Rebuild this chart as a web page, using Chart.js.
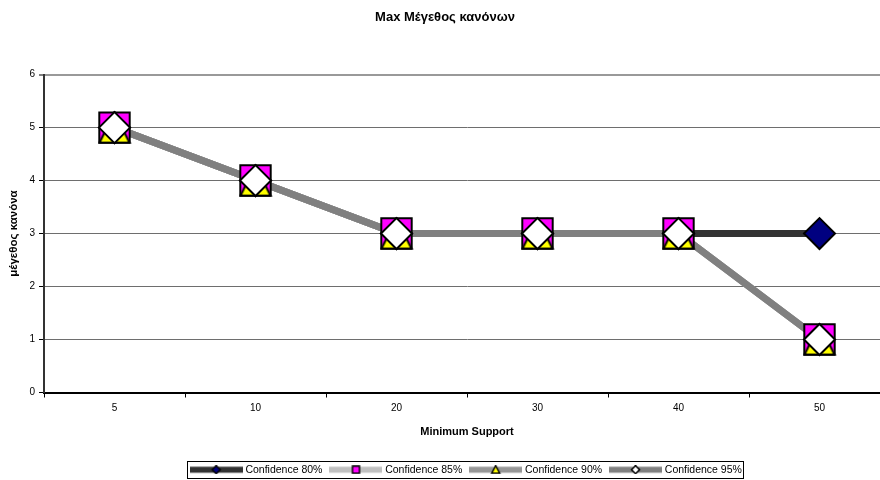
<!DOCTYPE html>
<html>
<head>
<meta charset="utf-8">
<script src="https://cdn.jsdelivr.net/npm/chart.js@4/dist/chart.umd.min.js"></script>
<style>
  html, body { margin: 0; padding: 0; background: #fff; overflow: hidden; }
  #wrap { width: 880px; height: 480px; overflow: hidden; }
  canvas { display: block; }
</style>
</head>
<body>
<div id="wrap"><canvas id="chart" width="890" height="480"></canvas></div>
<script>
// Minimum support values on the x axis
const supportLabels = ['5', '10', '20', '30', '40', '50'];
// Maximum rule size for each confidence threshold
const conf80 = [5, 4, 3, 3, 3, 3];
const conf85 = [5, 4, 3, 3, 3, 1];
const conf90 = [5, 4, 3, 3, 3, 1];
const conf95 = [5, 4, 3, 3, 3, 1];
const seriesNames = ['Confidence 80%', 'Confidence 85%', 'Confidence 90%', 'Confidence 95%'];

const FONT = "'Liberation Sans', Arial, sans-serif";
Chart.defaults.font.family = FONT;
Chart.defaults.color = '#000';

// Yellow triangle marker: apex at top centre, base across the bottom
function triangleMarker(size) {
  const c = document.createElement('canvas');
  c.width = size; c.height = size;
  const g = c.getContext('2d');
  g.beginPath();
  g.moveTo(size / 2, 2);
  g.lineTo(size - 2, size - 2);
  g.lineTo(2, size - 2);
  g.closePath();
  g.fillStyle = '#ffff00';
  g.fill();
  g.lineWidth = 2;
  g.strokeStyle = '#000';
  g.stroke();
  return c;
}

// Legend swatch: thick line segment with a small marker in the middle
function legendSwatch(lineColor, kind) {
  const w = 53, h = 9;
  const c = document.createElement('canvas');
  c.width = w; c.height = h;
  const g = c.getContext('2d');
  g.fillStyle = lineColor;
  g.fillRect(0, 1.5, w, 6);
  const cx = w / 2, cy = h / 2;
  g.lineWidth = 1.5;
  g.strokeStyle = '#000';
  g.beginPath();
  if (kind === 'diamond' || kind === 'diamondWhite') {
    g.moveTo(cx, cy - 4); g.lineTo(cx + 4, cy); g.lineTo(cx, cy + 4); g.lineTo(cx - 4, cy); g.closePath();
    g.fillStyle = kind === 'diamond' ? '#000080' : '#ffffff';
  } else if (kind === 'square') {
    g.rect(cx - 3.5, cy - 3.5, 7, 7);
    g.fillStyle = '#ff00ff';
  } else {
    g.moveTo(cx, cy - 4); g.lineTo(cx + 4, cy + 3.5); g.lineTo(cx - 4, cy + 3.5); g.closePath();
    g.fillStyle = '#ffff00';
  }
  g.fill();
  g.stroke();
  return c;
}

const lineColors = ['#333333', '#c0c0c0', '#969696', '#808080'];
const swatches = [
  legendSwatch(lineColors[0], 'diamond'),
  legendSwatch(lineColors[1], 'square'),
  legendSwatch(lineColors[2], 'triangle'),
  legendSwatch(lineColors[3], 'diamondWhite')
];
const seriesValues = [conf80, conf85, conf90, conf95];

// Lines first (underneath), markers on top of every line
const lineSets = seriesValues.map((vals, i) => ({
  label: seriesNames[i],
  data: vals,
  borderColor: lineColors[i],
  backgroundColor: lineColors[i],
  borderWidth: 7,
  pointRadius: 0,
  pointHoverRadius: 0,
  tension: 0,
  order: 8 - i
}));

const markerStyles = [
  { pointStyle: 'rectRot', pointRadius: 15.5, pointBackgroundColor: '#000080' },
  { pointStyle: 'rect', pointRadius: 21.5, pointBackgroundColor: '#ff00ff' },
  { pointStyle: triangleMarker(34), pointRadius: 17, pointBackgroundColor: '#ffff00' },
  { pointStyle: 'rectRot', pointRadius: 15.5, pointBackgroundColor: '#ffffff' }
];

const markerSets = seriesValues.map((vals, i) => Object.assign({
  label: seriesNames[i] + ' markers',
  data: vals,
  showLine: false,
  pointBorderColor: '#000',
  pointBorderWidth: 2,
  order: 4 - i
}, markerStyles[i]));

// Box drawn around the legend row
const legendFrame = {
  id: 'legendFrame',
  afterDraw(chart) {
    const boxes = chart.legend && chart.legend.legendHitBoxes;
    if (!boxes || !boxes.length) return;
    const first = boxes[0], last = boxes[boxes.length - 1];
    const x0 = Math.round(first.left) - 4.5;
    const x1 = Math.round(last.left + last.width) + 1.5;
    const y0 = Math.round(first.top) - 3.5;
    const y1 = Math.round(first.top + first.height) + 3.5;
    const g = chart.ctx;
    g.save();
    g.strokeStyle = '#000';
    g.lineWidth = 1;
    g.strokeRect(x0, y0, x1 - x0, y1 - y0);
    g.restore();
  }
};

new Chart(document.getElementById('chart'), {
  type: 'line',
  data: { labels: supportLabels, datasets: lineSets.concat(markerSets) },
  plugins: [legendFrame],
  options: {
    responsive: false,
    animation: false,
    events: [],
    layout: { autoPadding: false, padding: { left: 0, right: 0, top: 0, bottom: -5 } },
    plugins: {
      tooltip: { enabled: false },
      title: {
        display: true,
        text: 'Max Μέγεθος κανόνων',
        color: '#000',
        font: { family: FONT, size: 13, weight: 'bold' },
        padding: { top: 10, bottom: 49 }
      },
      legend: {
        position: 'bottom',
        fullSize: false,
        labels: {
          usePointStyle: true,
          pointStyleWidth: 48,
          padding: 9.5,
          color: '#000',
          font: { family: FONT, size: 10.5 },
          generateLabels: () => seriesNames.map((name, i) => ({
            text: name,
            pointStyle: swatches[i],
            fillStyle: lineColors[i],
            strokeStyle: lineColors[i],
            lineWidth: 0,
            hidden: false,
            datasetIndex: i,
            fontColor: '#000'
          }))
        }
      }
    },
    scales: {
      x: {
        offset: true,
        afterFit: (s) => { s.height = 62.5; },
        grid: {
          offset: true,
          drawOnChartArea: false,
          drawTicks: true,
          tickLength: 5,
          color: '#000',
          lineWidth: 1
        },
        border: { display: true, color: '#000', width: 2 },
        ticks: { color: '#000', font: { family: FONT, size: 10 }, padding: 5, maxRotation: 0 },
        title: {
          display: true,
          text: 'Minimum Support',
          color: '#000',
          font: { family: FONT, size: 11, weight: 'bold' },
          padding: { top: 0, bottom: 16.5 }
        }
      },
      y: {
        min: 0,
        max: 6,
        afterFit: (s) => { s.width = 44; },
        ticks: { stepSize: 1, color: '#000', font: { family: FONT, size: 10 }, padding: 4 },
        grid: {
          drawTicks: true,
          tickLength: 5,
          tickColor: '#000',
          tickWidth: 1,
          color: (ctx) => (ctx.tick && ctx.tick.value === 6 ? '#999999' : '#6e6e6e'),
          lineWidth: (ctx) => (ctx.tick && ctx.tick.value === 6 ? 2 : 1)
        },
        border: { display: true, color: '#333', width: 2 },
        title: {
          display: true,
          text: 'μέγεθος κανόνα',
          color: '#000',
          font: { family: FONT, size: 11.5, weight: 'bold' },
          padding: { top: 7, bottom: 0 }
        }
      }
    }
  }
});
</script>
</body>
</html>
